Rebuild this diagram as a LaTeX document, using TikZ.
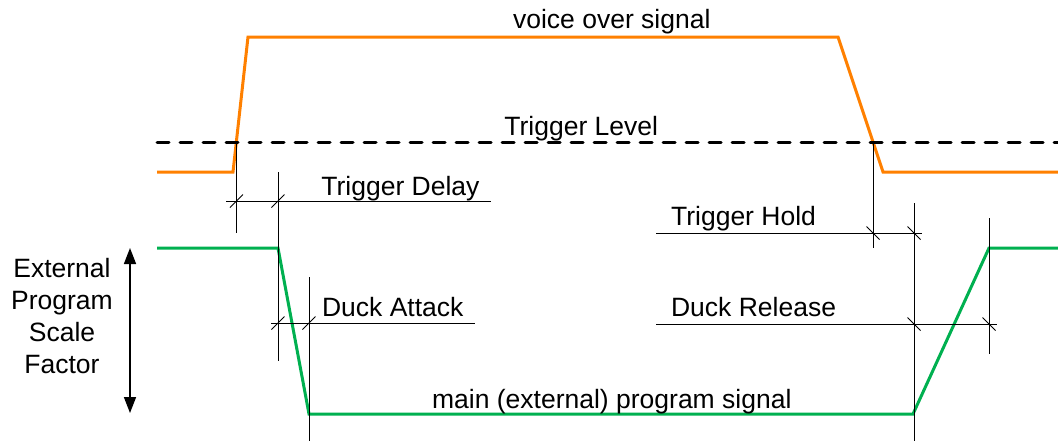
\documentclass[tikz,border=0pt]{standalone}
\usepackage{fontspec}
\setmainfont{Liberation Sans}
\usetikzlibrary{arrows.meta}
\definecolor{voiceorange}{RGB}{255,128,0}
\definecolor{maingreen}{RGB}{0,176,80}
\tikzset{
	sig/.style={line width=1.5pt, line join=miter},
	dim/.style={line width=0.5pt},
	lbl/.style={anchor=base west, inner sep=0pt, font=\fontsize{13.25}{16}\selectfont},
	tickL/.pic={\draw[dim] (-6.5,6.5) -- (6.5,-6.5);},
	tickR/.pic={\draw[dim] (-6.5,-6.5) -- (6.5,6.5);}
}

\begin{document}
\begin{tikzpicture}[x=0.5pt,y=-0.5pt]
		\useasboundingbox (0,0) rectangle (1058,441);
		% voice over signal
		\coordinate (o1) at (157,172);
		\coordinate (o2) at (233,172);
		\coordinate (o3) at (248,37);
		\coordinate (o4) at (838,37);
		\coordinate (o5) at (883,172);
		\coordinate (o6) at (1058,172);
		\draw[sig,voiceorange] (o1) -- (o2) -- (o3) -- (o4) -- (o5) -- (o6);
		\node[lbl] (voice) at (512.7,28) {voice over signal};
		
		% trigger level
		\coordinate (t1) at (157,142);
		\coordinate (t2) at (1058,142);
		\draw[line width=1.5pt, line cap=round, dash pattern=on 6pt off 5.5pt] (t1) -- (t2);
		\node[lbl] (trig) at (504,135) {Trigger Level};
		
		% main program signal
		\coordinate (g1) at (157,248);
		\coordinate (g2) at (278,248);
		\coordinate (g3) at (309,414);
		\coordinate (g4) at (913,414);
		\coordinate (g5) at (989,248);
		\coordinate (g6) at (1058,248);
		\draw[sig,maingreen] (g1) -- (g2) -- (g3) -- (g4) -- (g5) -- (g6);
		\node[lbl] (mainsig) at (431.7,408) {main (external) program signal};
		
		% trigger delay
		\coordinate (d1) at (236.5,142);
		\coordinate (d2) at (236.5,233);
		\coordinate (d3) at (278,172);
		\coordinate (d4) at (278,361);
		\coordinate (d5) at (226,201);
		\coordinate (d6) at (491,201);
		\draw[dim] (d1) -- (d2);
		\draw[dim] (d3) -- (d4);
		\draw[dim] (d5) -- (d6);
		\pic at (236.5,201) {tickL};
		\pic at (278,201) {tickL};
		\node[lbl] (delay) at (321,195) {Trigger Delay};
		
		% duck attack
		\coordinate (k1) at (309,277);
		\coordinate (k2) at (309,441);
		\coordinate (k3) at (271,323);
		\coordinate (k4) at (475,323);
		\draw[dim] (k1) -- (k2);
		\draw[dim] (k3) -- (k4);
		\pic at (278,323) {tickL};
		\pic at (309,323) {tickL};
		\node[lbl] (attack) at (321.7,316) {Duck Attack};
		
		% trigger hold
		\coordinate (h1) at (873,142);
		\coordinate (h2) at (873,248);
		\coordinate (h3) at (914,203);
		\coordinate (h4) at (914,441);
		\coordinate (h5) at (656,233);
		\coordinate (h6) at (922,233);
		\draw[dim] (h1) -- (h2);
		\draw[dim] (h3) -- (h4);
		\draw[dim] (h5) -- (h6);
		\pic at (873,233) {tickR};
		\pic at (914,233) {tickR};
		\node[lbl] (hold) at (670.7,225.7) {Trigger Hold};
		
		% duck release
		\coordinate (r1) at (989,218);
		\coordinate (r2) at (989,354);
		\coordinate (r3) at (656,324);
		\coordinate (r4) at (997,324);
		\draw[dim] (r1) -- (r2);
		\draw[dim] (r3) -- (r4);
		\pic at (914,324) {tickR};
		\pic at (989,324) {tickR};
		\node[lbl] (release) at (670.7,316.7) {Duck Release};
		
		% scale factor
		\coordinate (a1) at (130,413);
		\coordinate (a2) at (130,248);
		\draw[{Triangle[width=6pt,length=8pt]}-{Triangle[width=6pt,length=8pt]}, line width=0.8pt] (a1) -- (a2);
		\node[anchor=north, inner sep=0pt, align=center, font=\fontsize{13.25}{16}\selectfont] (scale) at (62,258) {External\\Program\\Scale\\Factor};
	\end{tikzpicture}
\end{document}
